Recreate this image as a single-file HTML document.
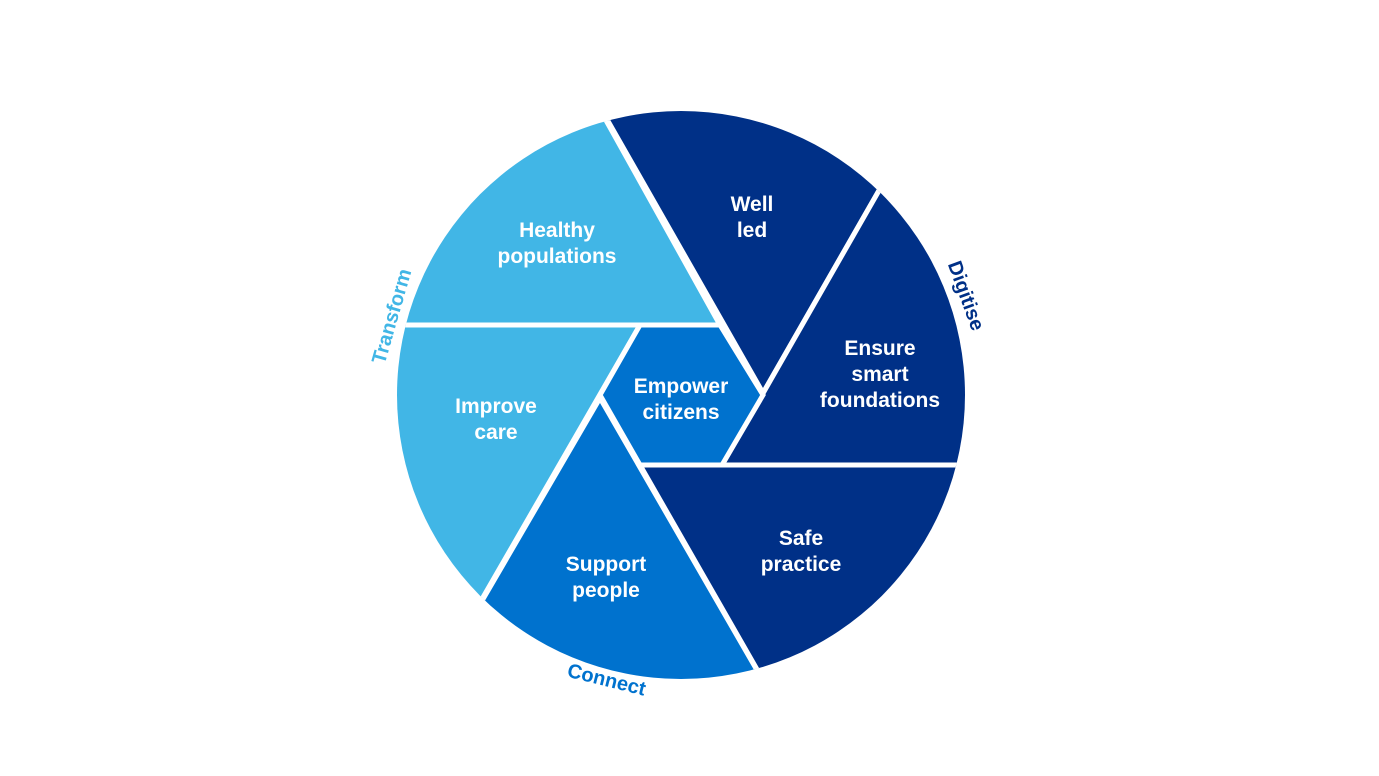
<!DOCTYPE html>
<html><head><meta charset="utf-8"><style>
html,body{margin:0;padding:0;background:#fff;width:1379px;height:776px;overflow:hidden;position:relative;}
svg{display:block;position:absolute;left:0;top:0;overflow:hidden;}
text{font-family:"Liberation Sans",sans-serif;font-weight:bold;}
</style></head><body><svg width="1379" height="776" viewBox="0 0 1379 776" xmlns="http://www.w3.org/2000/svg">
<defs><clipPath id="c"><circle cx="681" cy="395" r="284"/></clipPath></defs>
<g clip-path="url(#c)" stroke="#fff" stroke-width="5" stroke-linejoin="miter">
<polygon points="720,325 539,0 0,0 0,325" fill="#41b6e6"/>
<polygon points="763,393 539,0 988,0" fill="#003087"/>
<polygon points="722,465 988,0 1379,0 1379,465" fill="#003087"/>
<polygon points="640,465 1379,465 1379,776 818,776" fill="#003087"/>
<polygon points="600,398 818,776 380,776" fill="#0072ce"/>
<polygon points="640,325 0,325 0,776 380,776" fill="#41b6e6"/>
<polygon points="600,395 640,325 720,325 763,395 722,465 640,465" fill="#0072ce"/>
</g>
<g fill="#fff" font-size="21" text-anchor="middle">
<text x="557" y="237">Healthy</text><text x="557" y="263">populations</text>
<text x="752" y="211">Well</text><text x="752" y="237">led</text>
<text x="880" y="355">Ensure</text><text x="880" y="381">smart</text><text x="880" y="407">foundations</text>
<text x="801" y="545">Safe</text><text x="801" y="571">practice</text>
<text x="606" y="571">Support</text><text x="606" y="597">people</text>
<text x="496" y="413">Improve</text><text x="496" y="439">care</text>
<text x="681" y="393">Empower</text><text x="681" y="419">citizens</text>
</g>
<g font-size="20">
<text fill="#41b6e6" text-anchor="middle" transform="translate(398,318) rotate(-74)">Transform</text>
<text fill="#003087" text-anchor="middle" transform="translate(960,298) rotate(70)">Digitise</text>
<text fill="#0072ce" text-anchor="middle" transform="translate(605,686) rotate(14)">Connect</text>
</g>
</svg></body></html>
